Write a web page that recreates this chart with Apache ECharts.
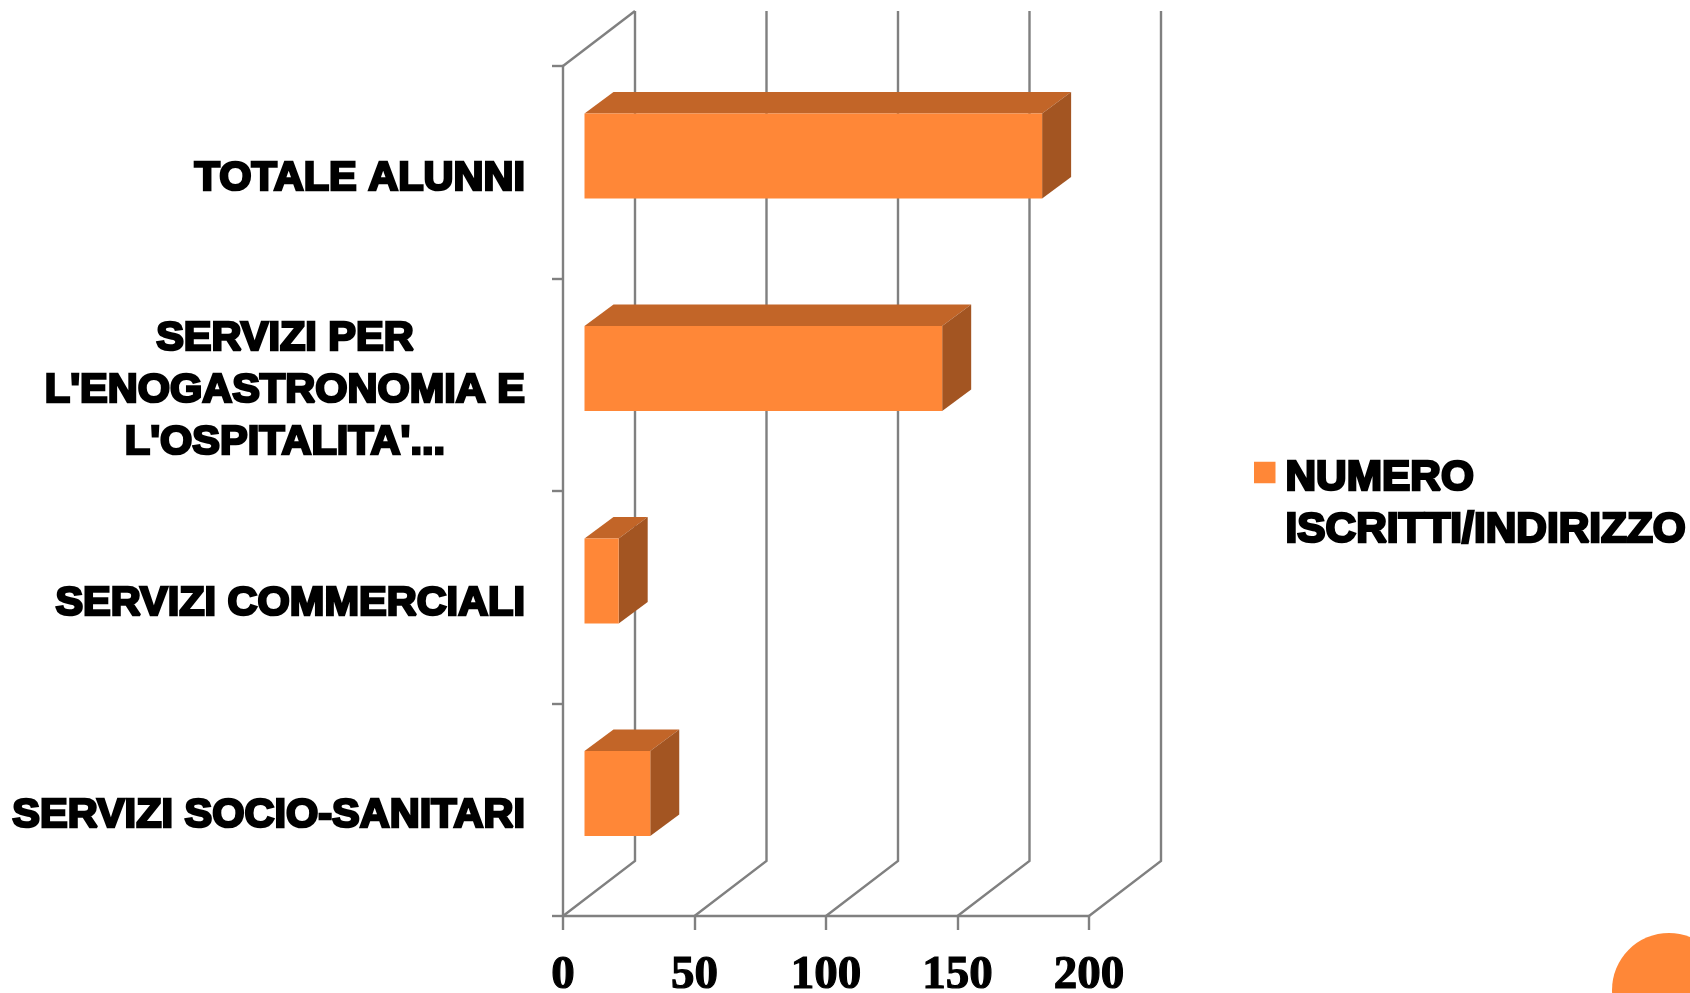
<!DOCTYPE html>
<html>
<head>
<meta charset="utf-8">
<style>html,body{margin:0;padding:0;background:#fff}#c{width:1690px;height:993px}</style>
<script src="https://cdn.jsdelivr.net/npm/echarts@6/dist/echarts.min.js"></script>
</head>
<body>
<div id="c"></div>
<script>
const categories = ["SERVIZI SOCIO-SANITARI", "SERVIZI COMMERCIALI", "SERVIZI PER\nL'ENOGASTRONOMIA E\nL'OSPITALITA'...", "TOTALE ALUNNI"];
const seriesName = "NUMERO\nISCRITTI/INDIRIZZO";
const iscritti = [25, 13, 136, 174];
const xTicks = [0, 50, 100, 150, 200];

const GREY = '#808080', FACE = '#FF8737', TOP = '#C26528', SIDE = '#A35522';
const WALL_DX = 72, WALL_DY = 55, BAR_DX = 29, BAR_DY = 21.5, BAR_OFF_X = 21.5, BAR_OFF_Y = -16.2;
const LABEL_FONT = {fontFamily: '"Liberation Sans"', fontWeight: 'bold', fontSize: 41.5, color: '#000',
  textBorderColor: '#000', textBorderWidth: 2.6};

function renderWall(params, api) {
  const cs = params.coordSys;
  const x = api.coord([api.value(0), 0])[0];
  const top = cs.y, bottom = cs.y + cs.height;
  const style = {stroke: GREY, lineWidth: 2.4, fill: null};
  const kids = [
    {type: 'polyline', shape: {points: [[x, bottom], [x + WALL_DX, bottom - WALL_DY], [x + WALL_DX, top - WALL_DY]]}, style}
  ];
  if (api.value(0) === 0) {
    kids.push({type: 'line', shape: {x1: x, y1: top, x2: x + WALL_DX, y2: top - WALL_DY}, style});
  }
  return {type: 'group', children: kids};
}

function renderBar(params, api) {
  const p0 = api.coord([0, api.value(1)]);
  const p1 = api.coord([api.value(0), api.value(1)]);
  const h = api.size([0, 1])[1] * 0.4;
  const x0 = p0[0] + BAR_OFF_X, x1 = p1[0] + BAR_OFF_X;
  const yT = p0[1] + BAR_OFF_Y - h / 2, yB = yT + h;
  return {type: 'group', children: [
    {type: 'polygon', shape: {points: [[x0, yT], [x1, yT], [x1 + BAR_DX, yT - BAR_DY], [x0 + BAR_DX, yT - BAR_DY]]}, style: {fill: TOP}},
    {type: 'polygon', shape: {points: [[x1, yT], [x1 + BAR_DX, yT - BAR_DY], [x1 + BAR_DX, yB - BAR_DY], [x1, yB]]}, style: {fill: SIDE}},
    {type: 'rect', shape: {x: x0, y: yT, width: x1 - x0, height: h}, style: {fill: FACE}}
  ]};
}

const chart = echarts.init(document.getElementById('c'), null, {renderer: 'canvas'});
chart.setOption({
  backgroundColor: '#fff',
  animation: false,
  grid: {left: 563, top: 66, width: 526, height: 850, containLabel: false, outerBoundsMode: 'none'},
  xAxis: {
    type: 'value', min: 0, max: 200, interval: 50,
    splitLine: {show: false},
    axisLine: {show: true, onZero: false, lineStyle: {color: GREY, width: 2.4}},
    axisTick: {show: true, length: 14, lineStyle: {color: GREY, width: 2.4}},
    axisLabel: {margin: 36, fontFamily: '"Liberation Serif"', fontWeight: 'bold', fontSize: 47, color: '#000',
      textBorderColor: '#000', textBorderWidth: 1.2,
      formatter: v => String(v)}
  },
  yAxis: {
    type: 'category', data: categories,
    axisLine: {show: true, lineStyle: {color: GREY, width: 2.4}},
    axisTick: {show: true, length: 11, lineStyle: {color: GREY, width: 2.4}},
    axisLabel: Object.assign({}, LABEL_FONT, {
      margin: 38, lineHeight: 52, align: 'right', interval: 0, padding: [12, 0, 0, 0],
      formatter: s => s.split('\n').map(l => '{c|' + l + '}').join('\n'),
      rich: {c: Object.assign({}, LABEL_FONT, {align: 'center', lineHeight: 52})}
    })
  },
  legend: {
    left: 1249, top: 384, orient: 'vertical',
    itemWidth: 21.5, itemHeight: 21.5, itemGap: 0,
    data: [{name: seriesName, icon: 'rect', itemStyle: {color: FACE}}],
    formatter: s => '{b| }\n' + s.split('\n').map(l => '{n|' + l + '}').join('\n'),
    textStyle: Object.assign({}, LABEL_FONT, {fontSize: 42.4, lineHeight: 52, padding: [0, 0, 0, 5],
      rich: {
        b: {lineHeight: 63, fontSize: 10},
        n: Object.assign({}, LABEL_FONT, {fontSize: 42.4, lineHeight: 52})
      }}),
    selectedMode: false
  },
  graphic: [{type: 'circle', right: -36, bottom: -54, shape: {r: 57}, style: {fill: FACE}, silent: true}],
  series: [
    {type: 'custom', name: 'griglia', silent: true, z: 1, renderItem: renderWall, clip: false,
      data: xTicks.map(t => [t, 0]), encode: {x: 0, y: 1}},
    {type: 'custom', name: seriesName, z: 3, renderItem: renderBar, clip: false,
      itemStyle: {color: FACE},
      data: iscritti.map((v, i) => [v, i]), encode: {x: 0, y: 1}}
  ]
});
</script>
</body>
</html>
